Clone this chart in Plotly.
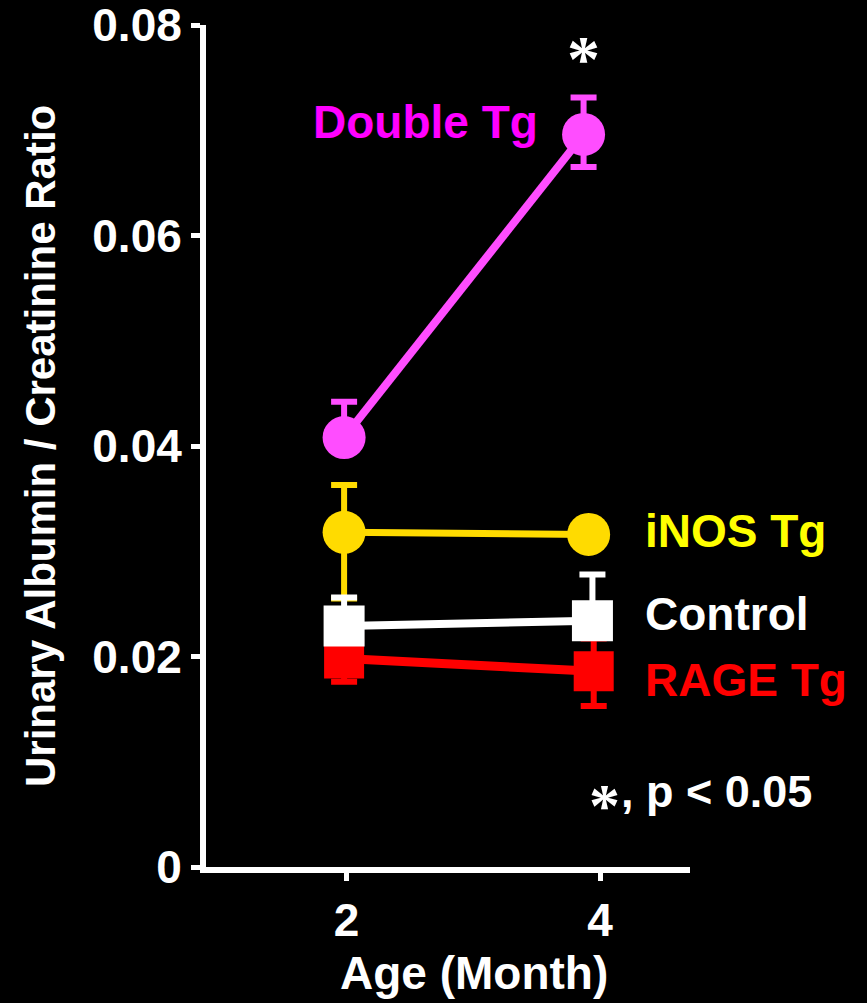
import plotly.graph_objects as go

# ---- data ----
age_ticks = [2, 4]
tick_text = ["2", "4"]
y_ticks = [0, 0.02, 0.04, 0.06, 0.08]
y_tick_text = ["0", "0.02", "0.04", "0.06", "0.08"]

double_x = [1.98, 3.87]
double_y = [0.0408, 0.0696]
double_err_plus = [0.0034, 0.0035]
double_err_minus = [0.0, 0.0031]

inos_x = [1.98, 3.91]
inos_y = [0.0318, 0.0316]
inos_err_plus = [0.0045, 0.0013]
inos_err_minus = [0.0063, 0.0]

control_x = [1.98, 3.94]
control_y = [0.0229, 0.0234]
control_err_plus = [0.0027, 0.0044]
control_err_minus = [0.0, 0.0]

rage_x = [1.98, 3.95]
rage_y = [0.0198, 0.0186]
rage_err_plus = [0.0021, 0.0031]
rage_err_minus = [0.0022, 0.0033]

FONT = "Liberation Sans, Arial, sans-serif"
W, H = 867, 1003
L, R, T, B = 206, 690, 25, 867


def px(x):
    return (x - L) / (R - L)


def py(y):
    return (B - y) / (B - T)


fig = go.Figure()


def add_series(x, y, ep, em, color, symbol, size, lw):
    fig.add_trace(go.Scatter(
        x=x, y=y, mode="lines+markers",
        line=dict(color=color, width=lw),
        marker=dict(color=color, symbol=symbol, size=size, line=dict(width=0)),
        error_y=dict(type="data", symmetric=False, array=ep, arrayminus=em,
                     color=color, thickness=6, width=13),
        showlegend=False, hoverinfo="skip",
    ))


add_series(double_x, double_y, double_err_plus, double_err_minus, "#FF4DFF", "circle", 43, 8)
add_series(inos_x, inos_y, inos_err_plus, inos_err_minus, "#FFDB00", "circle", 43, 7)
add_series(rage_x, rage_y, rage_err_plus, rage_err_minus, "#FF0000", "square", 40, 9)
add_series(control_x, control_y, control_err_plus, control_err_minus, "#FFFFFF", "square", 41, 8)

ann = []


def text(x, y, s, size, color, xanchor="center", yanchor="middle", angle=0, family=FONT):
    ann.append(dict(x=px(x), y=py(y), xref="paper", yref="paper", text=s,
                    showarrow=False, xanchor=xanchor, yanchor=yanchor,
                    textangle=angle,
                    font=dict(family=family, size=size, color=color, weight="bold")))


text(425, 122, "Double Tg", 46, "#FF00FF")
text(643, 531, "iNOS Tg", 46, "#FFFF00", xanchor="left")
text(643, 614, "Control", 46, "#FFFFFF", xanchor="left")
text(643, 680, "RAGE Tg", 46, "#FF0000", xanchor="left")
text(583, 58, "*", 66, "#FFFFFF", family="Liberation Serif, serif")
text(604, 805, "*", 62, "#FFFFFF", family="Liberation Serif, serif")
text(619, 791, ", p < 0.05", 45, "#FFFFFF", xanchor="left")
text(474, 973, "Age (Month)", 46, "#FFFFFF")
text(40, 446, "Urinary Albumin / Creatinine Ratio", 42, "#FFFFFF", angle=-90)

fig.update_layout(
    width=W, height=H,
    margin=dict(l=L, r=W - R, t=T, b=H - B, pad=0),
    paper_bgcolor="black", plot_bgcolor="black",
    annotations=ann,
    xaxis=dict(range=[0.89, 4.71], tickvals=age_ticks, ticktext=tick_text,
               automargin=False, ticklabeloverflow="allow",
               showgrid=False, zeroline=False, showline=True, linecolor="white",
               linewidth=6, ticks="outside", ticklen=8, tickwidth=5, tickcolor="white",
               tickfont=dict(family=FONT, size=46, color="white", weight="bold")),
    yaxis=dict(range=[0, 0.08], tickvals=y_ticks, ticktext=y_tick_text,
               automargin=False, ticklabeloverflow="allow",
               showgrid=False, zeroline=False, showline=True, linecolor="white",
               linewidth=6, ticks="outside", ticklen=9, tickwidth=5, tickcolor="white",
               tickfont=dict(family=FONT, size=46, color="white", weight="bold")),
)

fig.write_html("out.html", config={"displayModeBar": False},
               post_script="document.body.style.margin='0';document.body.style.background='black';")
